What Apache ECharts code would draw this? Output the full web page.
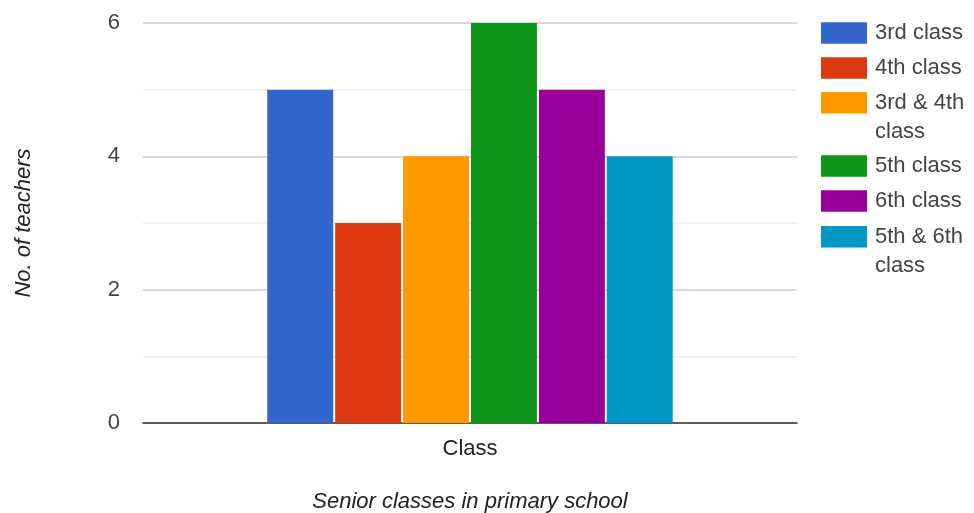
<!DOCTYPE html>
<html>
<head>
<meta charset="utf-8">
<script src="https://cdn.jsdelivr.net/npm/echarts@6/dist/echarts.min.js"></script>
<style>
  html, body { margin: 0; padding: 0; background: #fff; }
  #chart { width: 974px; height: 513px; }
</style>
</head>
<body>
<div id="chart"></div>
<script>
// Teachers per senior class in a primary school
const categories = ['Class'];
const classNames = ['3rd class', '4th class', '3rd & 4th class', '5th class', '6th class', '5th & 6th class'];
const teacherCounts = [5, 3, 4, 6, 5, 4];
const yTicks = [0, 2, 4, 6];

const colors = ['#3366cc', '#dc3912', '#ff9900', '#109618', '#990099', '#0099c6'];
const FONT = '"Liberation Sans", Arial, sans-serif';

const series = classNames.map((name, i) => ({
  name: name,
  type: 'bar',
  data: [teacherCounts[i]],
  barGap: '3%',
  barCategoryGap: '38%',
  itemStyle: { color: colors[i] },
  emphasis: { disabled: true }
}));

// One legend block per entry so that wrapped names keep the swatch on their first line
const swatchTops = [22, 57, 92, 155, 190, 226];
const SW = 46, SH = 21.5, LH = 29;
const legends = classNames.map((name, i) => {
  const wraps = name.indexOf('&') >= 0;
  const h = wraps ? SH + LH : SH;
  return {
    orient: 'vertical',
    left: 821,
    top: wraps ? swatchTops[i] - (2 * LH - h) / 2 : swatchTops[i],
    padding: 0,
    itemWidth: SW,
    itemHeight: h,
    selectedMode: false,
    data: [{
      name: name,
      icon: wraps ? 'path://M0,0H46V21.5H0ZM0,50.5L0,50.5' : 'rect'
    }],
    formatter: n => n.indexOf('&') >= 0 ? n.replace(/ class$/, '\nclass') : n,
    textStyle: {
      fontFamily: FONT,
      fontSize: 22,
      color: '#444',
      lineHeight: wraps ? LH : 22,
      padding: [0, 0, 0, 3]
    }
  };
});

const chart = echarts.init(document.getElementById('chart'), null, { renderer: 'canvas' });
chart.setOption({
  animation: false,
  backgroundColor: '#fff',
  color: colors,
  grid: { left: 143, right: 177, top: 23, bottom: 90, containLabel: false, outerBoundsMode: 'none' },
  legend: legends,
  xAxis: {
    type: 'category',
    data: categories,
    name: 'Senior classes in primary school',
    nameLocation: 'middle',
    nameGap: 68,
    nameTextStyle: { fontFamily: FONT, fontSize: 22, fontStyle: 'italic', color: '#222' },
    axisLine: { show: true, lineStyle: { color: '#333', width: 1.5 } },
    axisTick: { show: false },
    axisLabel: { fontFamily: FONT, fontSize: 22, color: '#222', margin: 15 },
    splitLine: { show: false }
  },
  yAxis: {
    type: 'value',
    min: yTicks[0],
    max: yTicks[yTicks.length - 1],
    interval: yTicks[1] - yTicks[0],
    name: 'No. of teachers',
    nameLocation: 'middle',
    nameGap: 108,
    nameTextStyle: { fontFamily: FONT, fontSize: 22, fontStyle: 'italic', color: '#222' },
    axisLine: { show: false },
    axisTick: { show: false },
    axisLabel: { fontFamily: FONT, fontSize: 22, color: '#444', margin: 23 },
    splitLine: { show: true, lineStyle: { color: '#cccccc', width: 1.5 } },
    minorTick: { show: false, splitNumber: 2 },
    minorSplitLine: { show: true, lineStyle: { color: '#ebebeb', width: 1.5 } }
  },
  series: series
});
</script>
</body>
</html>
